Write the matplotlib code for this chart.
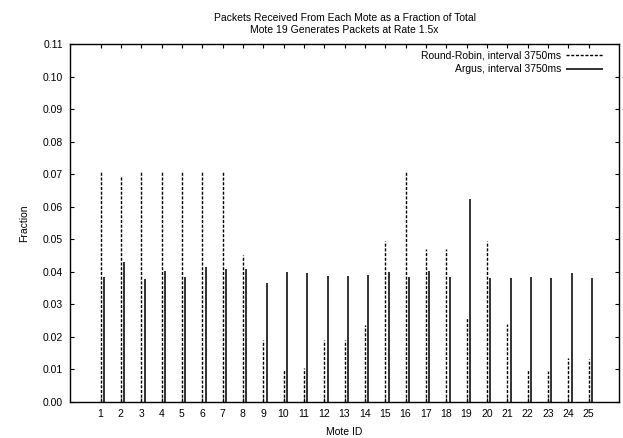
import matplotlib
matplotlib.use("Agg")
import matplotlib.pyplot as plt
import numpy as np

motes = list(range(1, 26))
round_robin = [0.0711, 0.0696, 0.0711, 0.0711, 0.0711, 0.0711, 0.0707, 0.0452,
               0.0190, 0.0098, 0.0104, 0.0190, 0.0190, 0.0237, 0.0496, 0.0711,
               0.0469, 0.0469, 0.0257, 0.0496, 0.0240, 0.0101, 0.0094, 0.0134, 0.0130]
argus = [0.0383, 0.0429, 0.0379, 0.0403, 0.0385, 0.0416, 0.0408, 0.0409,
         0.0364, 0.0398, 0.0395, 0.0387, 0.0387, 0.0391, 0.0398, 0.0383,
         0.0403, 0.0383, 0.0624, 0.0382, 0.0382, 0.0384, 0.0382, 0.0396, 0.0382]
y_ticks = [0.00, 0.01, 0.02, 0.03, 0.04, 0.05, 0.06, 0.07, 0.08, 0.09, 0.10, 0.11]

plt.rcParams['font.family'] = ['Liberation Sans', 'DejaVu Sans']
fs = 7.5

fig = plt.figure(figsize=(6.23, 4.38), dpi=100)
ax = fig.add_axes([70/623, 1 - 401.7/438, (619 - 70)/623, (401.7 - 44.3)/438])

x = np.array(motes, dtype=float)
ax.vlines(x, 0, round_robin, colors='black', linewidth=1.0,
          linestyles=(0, (2.2, 1.2)), label='Round-Robin, interval 3750ms')
ax.vlines(x + 0.17, 0, argus, colors='#222222', linewidth=1.3,
          linestyles='solid', label='Argus, interval 3750ms')

ax.set_xlim(-0.5, 26.5)
ax.set_ylim(0, 0.11)
ax.set_xticks(motes)
ax.set_xticklabels([str(m) for m in motes], fontsize=fs)
ax.set_yticks(y_ticks)
ax.set_yticklabels([f"{v:.2f}" for v in y_ticks], fontsize=fs)
ax.tick_params(direction='in', top=True, right=True, length=3, width=0.8, pad=5)
for s in ax.spines.values():
    s.set_linewidth(1.0)

ax.set_xlabel('Mote ID', fontsize=fs, labelpad=6)
ax.set_ylabel('Fraction', fontsize=fs, labelpad=10)
ax.set_title('Packets Received From Each Mote as a Fraction of Total\n'
             'Mote 19 Generates Packets at Rate 1.5x', fontsize=fs,
             linespacing=1.25, pad=8)

leg = ax.legend(loc='upper right', bbox_to_anchor=(0.971, 0.982),
                frameon=False, markerfirst=False,
                fontsize=fs, handlelength=3.6, handletextpad=0.45,
                labelspacing=0.35, borderaxespad=0.0, borderpad=0.0)

fig.savefig('out.png', dpi=100)
